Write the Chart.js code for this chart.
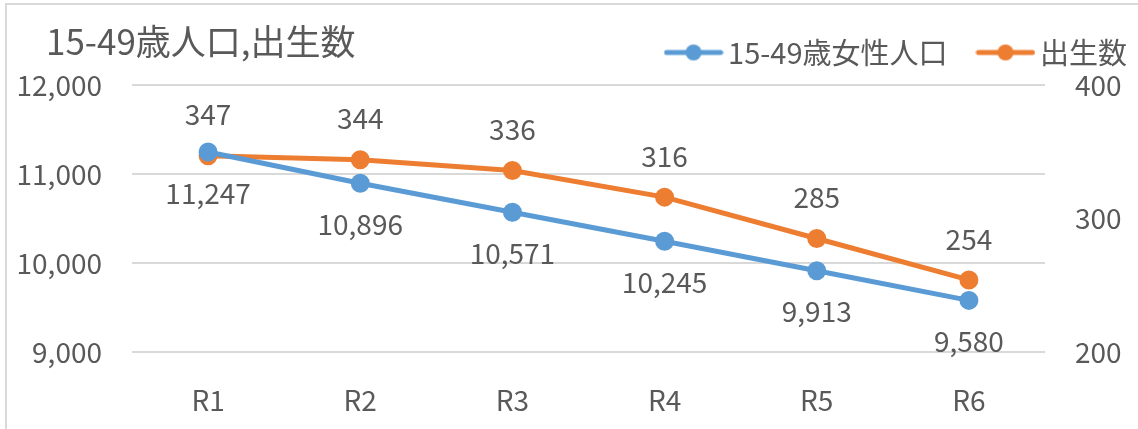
<!DOCTYPE html>
<html><head><meta charset="utf-8">
<script src="https://cdn.jsdelivr.net/npm/chart.js@4"></script>
<style>
html,body{margin:0;padding:0;background:#fff;overflow:hidden}
#wrap{position:relative;width:1138px;height:429px}
#frame{position:absolute;left:5px;top:3px;width:1140px;height:440px;border:2px solid #d9d9d9;box-sizing:border-box;pointer-events:none}
#title{position:absolute;left:46px;top:20px;font:35px "Noto Sans CJK JP";color:#595959;line-height:40px;white-space:nowrap}
</style></head>
<body><div id="wrap"><canvas id="c" width="1138" height="429"></canvas><div id="frame"></div><div id="title">15-49歳人口,出生数</div></div>
<script>
const categories = ["R1","R2","R3","R4","R5","R6"];
const womenPop = [11247,10896,10571,10245,9913,9580];
const births = [347,344,336,316,285,254];
const leftTicks = [9000,10000,11000,12000];
const rightTicks = [200,300,400];
const seriesNames = ["15-49歳女性人口","出生数"];

const FONT = '"Noto Sans CJK JP", "Noto Sans", sans-serif';
const TXT = '#595959';
const BLUE = '#5B9BD5', ORANGE = '#ED7D31';

function legendIcon(color){
  const c = document.createElement('canvas'); c.width = 60; c.height = 18;
  const g = c.getContext('2d');
  g.strokeStyle = color; g.lineWidth = 5; g.lineCap = 'round';
  g.beginPath(); g.moveTo(3,9); g.lineTo(57,9); g.stroke();
  g.fillStyle = color; g.beginPath(); g.arc(30,9,8,0,Math.PI*2); g.fill();
  return c;
}
const icons = [legendIcon(BLUE), legendIcon(ORANGE)];

const labelPlugin = {
  id:'valLabels',
  afterDatasetsDraw(chart){
    const ctx = chart.ctx;
    ctx.save();
    ctx.font = '28px ' + FONT; ctx.fillStyle = TXT;
    ctx.textAlign = 'center'; ctx.textBaseline = 'middle';
    chart.data.datasets.forEach((ds,i)=>{
      const meta = chart.getDatasetMeta(i);
      const off = i===0 ? 41 : -41;
      meta.data.forEach((el,j)=>{
        ctx.fillText(ds.data[j].toLocaleString('en-US'), el.x, el.y + off);
      });
    });
    ctx.restore();
  }
};

// spacer box between legend and plot area
const spacerPlugin = {
  id:'spacer',
  beforeInit(chart){
    Chart.layouts.addBox(chart, {
      position:'top', weight:-10, fullSize:true, options:{},
      top:0,left:0,right:0,bottom:0,width:0,height:0,
      update(maxWidth){ this.width = maxWidth; this.height = 8; return this.height; },
      draw(){}, isHorizontal(){ return true; }
    });
  }
};

new Chart(document.getElementById('c'), {
  type:'line',
  data:{
    labels:categories,
    datasets:[
      {label:seriesNames[0], data:womenPop, yAxisID:'y', borderColor:BLUE, backgroundColor:BLUE, borderWidth:5, pointRadius:7, pointHoverRadius:7, tension:0},
      {label:seriesNames[1], data:births, yAxisID:'y1', borderColor:ORANGE, backgroundColor:ORANGE, borderWidth:5, pointRadius:7, pointHoverRadius:7, tension:0}
    ]
  },
  options:{
    responsive:false, animation:false, devicePixelRatio:1,
    layout:{padding:{left:0,right:-27,top:0,bottom:0}},
    plugins:{
      tooltip:{enabled:false},
      title:{display:false},
      legend:{
        display:true, position:'top', align:'end',
        labels:{
          usePointStyle:true, pointStyleWidth:40, boxHeight:30,
          color:TXT, font:{family:FONT,size:29}, padding:38,
          generateLabels(chart){
            return chart.data.datasets.map((ds,i)=>({
              text:ds.label, pointStyle:icons[i], fillStyle:ds.borderColor, strokeStyle:ds.borderColor,
              lineWidth:0, hidden:false, datasetIndex:i, fontColor:TXT
            }));
          }
        }
      }
    },
    scales:{
      x:{
        offset:true,
        grid:{display:false}, border:{display:false},
        ticks:{color:TXT, font:{family:FONT,size:28}, padding:24},
        afterFit(s){ s.height = 429-352; }
      },
      y:{
        position:'left', min:9000, max:12000,
        afterBuildTicks(s){ s.ticks = leftTicks.map(v=>({value:v})); },
        grid:{color:'#d9d9d9', lineWidth:2, drawTicks:false}, border:{display:false},
        ticks:{color:TXT, font:{family:FONT,size:28}, padding:30, callback:v=>v.toLocaleString('en-US')},
        afterFit(s){ s.width = 132; }
      },
      y1:{
        position:'right', min:200, max:400,
        afterBuildTicks(s){ s.ticks = rightTicks.map(v=>({value:v})); },
        grid:{display:false, drawTicks:false}, border:{display:false},
        ticks:{color:TXT, font:{family:FONT,size:28}, padding:30},
        afterFit(s){ s.width = 1138-1045+27; }
      }
    }
  },
  plugins:[labelPlugin, spacerPlugin]
});
</script>
</body></html>
